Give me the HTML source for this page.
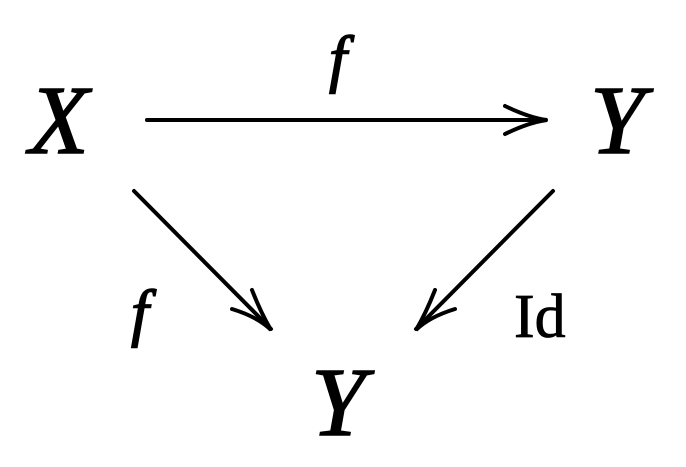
<!DOCTYPE html>
<html><head><style>html,body{margin:0;padding:0;background:#fff;width:686px;height:467px;overflow:hidden}</style></head>
<body>
<svg width="686" height="467" viewBox="0 0 686 467" xmlns="http://www.w3.org/2000/svg">
<g font-family="Liberation Serif, serif" fill="#000" stroke="#000" stroke-width="1.5">
<text x="29" y="153" font-size="98" font-style="italic">X</text>
<text x="590" y="153" font-size="98" font-style="italic">Y</text>
<text x="311" y="435" font-size="98" font-style="italic">Y</text>
<text x="329" y="80" font-size="64" font-style="italic">f</text>
<text x="131" y="334" font-size="64" font-style="italic">f</text>
<text x="514" y="337" font-size="62" stroke-width="0.8">Id</text>
</g>
<g stroke="#000" stroke-width="4" fill="none" stroke-linecap="round">
<line x1="147" y1="120" x2="546" y2="120"/>
<path d="M505,106 Q530,118 547,120 Q530,122 505,134"/>
<line x1="134" y1="191" x2="271" y2="329"/>
<path d="M232,309 Q258,317 271,330 Q261,313 252,290"/>
<line x1="553" y1="191" x2="416" y2="329"/>
<path d="M455,309 Q429,317 416,330 Q426,313 435,290"/>
</g>
</svg>
</body></html>
